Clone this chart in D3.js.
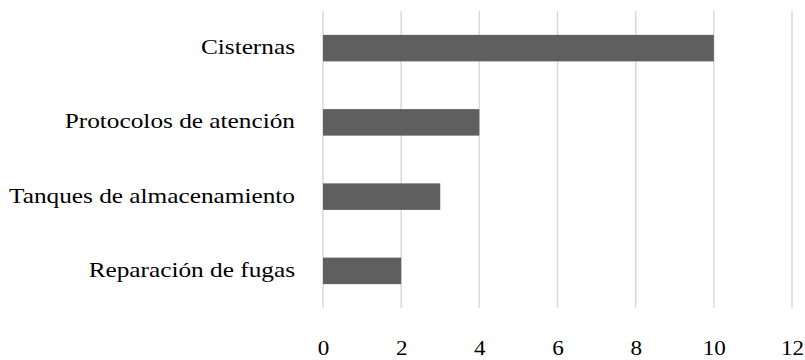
<!DOCTYPE html>
<html>
<head>
<meta charset="utf-8">
<script src="https://cdn.jsdelivr.net/npm/d3@7"></script>
<style>
  body { margin: 0; background: #ffffff; }
  svg text { font-family: "Liberation Serif", "Times New Roman", serif; fill: #000; }
</style>
</head>
<body>
<script>
// data
var categories = ["Cisternas", "Protocolos de atención", "Tanques de almacenamiento", "Reparación de fugas"];
var values = [10, 4, 3, 2];
var xTicks = [0, 2, 4, 6, 8, 10, 12];

var width = 805;
var height = 360;
var margin = {top: 11, right: 13, bottom: 52, left: 323};

var barColor = "#5f5f5f";
var gridColor = "#d9d9d9";
var fontSize = 22;
var labelStretch = 1.15; // widen Times-like glyphs toward the Palatino look

var svg = d3.select("body")
    .append("svg")
    .attr("width", width)
    .attr("height", height);

var x = d3.scaleLinear()
    .domain([0, 12])
    .range([margin.left, width - margin.right]);

var y = d3.scaleBand()
    .domain(categories)
    .range([margin.top, height - margin.bottom])
    .paddingInner(0.643)
    .paddingOuter(0.3215);

// vertical gridlines
svg.append("g")
    .selectAll("line")
    .data(xTicks)
    .enter()
    .append("line")
    .attr("x1", function(d) { return x(d); })
    .attr("x2", function(d) { return x(d); })
    .attr("y1", margin.top)
    .attr("y2", height - margin.bottom)
    .attr("stroke", gridColor)
    .attr("stroke-width", 1.5);

// bars
svg.append("g")
    .selectAll("rect")
    .data(values)
    .enter()
    .append("rect")
    .attr("x", x(0))
    .attr("y", function(d, i) { return y(categories[i]); })
    .attr("width", function(d) { return x(d) - x(0); })
    .attr("height", y.bandwidth())
    .attr("fill", barColor);

// x axis tick labels
var xAxis = d3.axisBottom(x).tickValues(xTicks).tickSize(0).tickPadding(0);
var gx = svg.append("g")
    .attr("transform", "translate(0," + (height - margin.bottom) + ")")
    .call(xAxis);
gx.select(".domain").remove();
gx.selectAll("text")
    .attr("y", 47)
    .attr("dy", null)
    .attr("transform", "scale(1.05,1)")
    .style("font-size", fontSize + "px")
    .style("font-family", "'Liberation Serif', serif")
    .attr("fill", "#000");

// category labels
svg.append("g")
    .attr("transform", "translate(" + (x(0) - 28) + ",0) scale(" + labelStretch + ",1)")
    .selectAll("text")
    .data(categories)
    .enter()
    .append("text")
    .attr("x", 0)
    .attr("y", function(d) { return y(d) + y.bandwidth() / 2 + 6; })
    .attr("text-anchor", "end")
    .style("font-size", fontSize + "px")
    .text(function(d) { return d; });
</script>
</body>
</html>
